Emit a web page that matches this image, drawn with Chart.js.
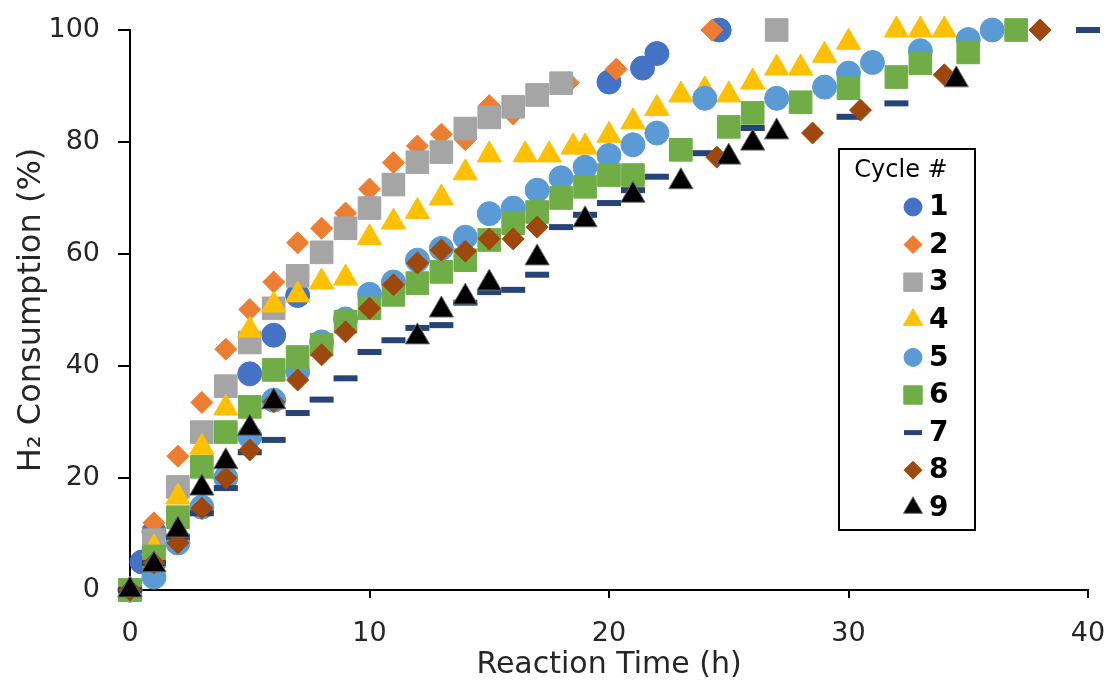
<!DOCTYPE html>
<html>
<head>
<meta charset="utf-8">
<script src="https://cdn.jsdelivr.net/npm/chart.js"></script>
<style>
    body { margin: 0; background: #fff; }
    canvas { display: block; }
</style>
</head>
<body>
<canvas id="myChart" width="1107" height="687"></canvas>
<script>
// reaction time (h) and H2 consumption (%) per cycle
const time1 = [0, 0.5, 1, 5, 6, 7, 20, 21.4, 22, 24.6];
const cons1 = [0, 5, 10.4, 38.6, 45.5, 52.6, 90.7, 93.2, 95.8, 100];

const time2 = [0, 1, 2, 3, 4, 5, 6, 7, 8, 9, 10, 11, 12, 13, 14, 15, 16, 18.3, 20.3, 24.3];
const cons2 = [0, 12, 23.9, 33.5, 43, 50.1, 55, 62, 64.6, 67.3, 71.6, 76.3, 79.3, 81.4, 80.4, 86.5, 85, 90.6, 93, 100];

const time3 = [0, 1, 2, 3, 4, 5, 6, 7, 8, 9, 10, 11, 12, 13, 14, 15, 16, 17, 18, 27];
const cons3 = [0, 8.9, 18.4, 28.2, 36.4, 44.2, 50.3, 56.1, 60.3, 64.6, 68.2, 72.4, 76.4, 78.2, 82.4, 84.4, 86.3, 88.4, 90.5, 100];

const time4 = [0, 1, 2, 3, 4, 5, 6, 7, 8, 9, 10, 11, 12, 13, 14, 15, 16.5, 17.5, 18.5, 19, 20, 21, 22, 23, 24, 25, 26, 27, 28, 29, 30, 32, 33, 34];
const cons4 = [0, 7.5, 16.6, 25.5, 32.5, 46.4, 50.9, 52.7, 55, 55.7, 62.9, 65.7, 67.6, 70, 74.5, 77.7, 77.7, 77.7, 79.1, 79.1, 81.2, 83.6, 86, 88.4, 89.3, 88.4, 90.7, 93.2, 93.2, 95.5, 97.8, 100, 100, 100];

const time5 = [0, 1, 2, 3, 4, 5, 6, 7, 8, 9, 10, 11, 12, 13, 14, 15, 16, 17, 18, 19, 20, 21, 22, 24, 27, 29, 30, 31, 33, 35, 36];
const cons5 = [0, 2.3, 8.4, 14.8, 20, 27.4, 33.9, 39, 44.3, 48.4, 52.8, 55, 58.9, 61, 63, 67.2, 68.2, 71.4, 73.6, 75.5, 77.6, 79.5, 81.6, 87.8, 87.8, 89.8, 92.3, 94.2, 96.3, 98.3, 100];

const time6 = [0, 1, 2, 3, 4, 5, 6, 7, 8, 9, 10, 11, 12, 13, 14, 15, 16, 17, 18, 19, 20, 21, 23, 25, 26, 28, 30, 32, 33, 35, 37];
const cons6 = [0, 6, 13, 22, 28.2, 32.7, 39.3, 41.6, 43.8, 47.9, 50.3, 52.7, 54.8, 56.8, 58.9, 62.5, 65.5, 67.5, 70, 72, 74.1, 74.1, 78.6, 82.7, 85.2, 87.1, 89.6, 91.6, 94.1, 96, 100];

const time7 = [0, 1, 2, 3, 4, 5, 6, 7, 8, 9, 10, 11, 12, 13, 14, 15, 16, 17, 18, 19, 20, 21, 22, 24, 26, 30, 32, 40];
const cons7 = [0, 4.8, 9.5, 13.7, 18.2, 24.6, 26.8, 31.6, 34, 37.8, 42.5, 44.6, 46.8, 47.3, 51.3, 53.2, 53.6, 56.3, 64.8, 67, 69.1, 71.4, 73.8, 78, 82.5, 84.5, 86.9, 100];

const time8 = [0, 1, 2, 3, 4, 5, 6, 7, 8, 9, 10, 11, 12, 13, 14, 15, 16, 17, 24.5, 28.5, 30.5, 34, 38];
const cons8 = [0, 4.8, 8.4, 14.6, 20, 25, 33.6, 37.5, 42, 46.1, 50.3, 54.5, 58.4, 60.7, 60.5, 62.7, 62.7, 64.8, 77.3, 81.6, 85.7, 92, 100];

const time9 = [0, 1, 2, 3, 4, 5, 6, 12, 13, 14, 15, 17, 19, 21, 23, 25, 26, 27, 34.5];
const cons9 = [0, 4.5, 10.7, 18.2, 22.9, 28.9, 33.6, 45.2, 50, 52.3, 54.8, 59.3, 66.1, 70.5, 72.9, 77.3, 79.8, 81.8, 91.1];

const cycleNames = ['1', '2', '3', '4', '5', '6', '7', '8', '9'];
const xTicks = [0, 10, 20, 30, 40];
const yTicks = [0, 20, 40, 60, 80, 100];

const allTimes = [time1, time2, time3, time4, time5, time6, time7, time8, time9];
const allCons = [cons1, cons2, cons3, cons4, cons5, cons6, cons7, cons8, cons9];

// marker look per cycle (excel style)
const markers = [
    { style: 'circle',   color: '#4472C4', border: '#4472C4', r: 12, bw: 1, lr: 9,  lbw: 1 },
    { style: 'rectRot',  color: '#ED7D31', border: '#ED7D31', r: 11, bw: 1, lr: 9,  lbw: 1 },
    { style: 'rect',     color: '#A5A5A5', border: '#A5A5A5', r: 16, bw: 1, lr: 13, lbw: 1 },
    { style: 'triangle', color: '#FFC000', border: '#FFC000', r: 14, bw: 1, lr: 11, lbw: 1 },
    { style: 'circle',   color: '#5B9BD5', border: '#5B9BD5', r: 12, bw: 1, lr: 9,  lbw: 1 },
    { style: 'rect',     color: '#70AD47', border: '#70AD47', r: 16, bw: 1, lr: 13, lbw: 1 },
    { style: 'line',     color: '#264478', border: '#264478', r: 12, bw: 6, lr: 9,  lbw: 5 },
    { style: 'rectRot',  color: '#9E480E', border: '#9E480E', r: 11, bw: 1, lr: 9,  lbw: 1 },
    { style: 'triangle', color: '#000000', border: '#6b6b6b', r: 14, bw: 1, lr: 11, lbw: 1 }
];

const FONT = "'DejaVu Sans', sans-serif";
const TEXT = '#262626';


function buildDatasets() {
    return cycleNames.map((name, i) => ({
        label: name,
        data: allTimes[i].map((t, j) => ({ x: t, y: allCons[i][j] })),
        showLine: false,
        clip: false,
        order: 8 - i,
        pointStyle: markers[i].style,
        pointRadius: markers[i].r,
        pointBackgroundColor: markers[i].color,
        pointBorderColor: markers[i].border,
        pointBorderWidth: markers[i].bw
    }));
}


function drawMarker(ctx, m, x, y) {
    ctx.fillStyle = m.color;
    ctx.strokeStyle = m.border;
    ctx.lineWidth = m.lbw;
    Chart.helpers.drawPoint(ctx, {
        pointStyle: m.style,
        radius: m.lr,
        rotation: 0,
        borderWidth: m.lbw
    }, x, y);
}


const cycleLegend = {
    id: 'cycleLegend',
    afterDraw(chart) {
        const ctx = chart.ctx;
        ctx.save();
        ctx.strokeStyle = '#000';
        ctx.lineWidth = 2;
        ctx.strokeRect(839, 149, 136, 381);

        ctx.fillStyle = '#000';
        ctx.font = '24px ' + FONT;
        ctx.textAlign = 'center';
        ctx.textBaseline = 'middle';
        ctx.fillText('Cycle #', 901, 171);

        cycleNames.forEach((name, i) => {
            const y = 207 + i * 37.6;
            drawMarker(ctx, markers[i], 913, y);
            ctx.fillStyle = '#000';
            ctx.font = 'bold 28px ' + FONT;
            ctx.textAlign = 'left';
            ctx.fillText(name, 929, y + 1);
        });
        ctx.restore();
    }
};


function seeChart() {
    const ctx = document.getElementById('myChart');

    new Chart(ctx, {
        type: 'scatter',
        data: { datasets: buildDatasets() },
        options: {
            responsive: false,
            animation: false,
            events: [],
            layout: { padding: { left: 0, right: 19, top: 30, bottom: 0 } },
            plugins: {
                legend: { display: false },
                tooltip: { enabled: false }
            },
            scales: {
                x: {
                    type: 'linear',
                    min: 0,
                    max: 40,
                    afterFit: (scale) => {
                        scale.height = 97;
                        scale.paddingLeft = 0;
                        scale.paddingRight = 0;
                    },
                    afterBuildTicks: (scale) => { scale.ticks = xTicks.map(v => ({ value: v })); },
                    border: { display: true, color: '#000', width: 2 },
                    grid: { display: true, drawOnChartArea: false, drawTicks: true, tickLength: 8, color: '#000', lineWidth: 2 },
                    ticks: { padding: 20, color: TEXT, font: { family: FONT, size: 27 } },
                    title: {
                        display: true,
                        text: 'Reaction Time (h)',
                        color: TEXT,
                        font: { family: FONT, size: 30 },
                        padding: { top: 0, bottom: 4 }
                    }
                },
                y: {
                    type: 'linear',
                    min: 0,
                    max: 100,
                    afterFit: (scale) => {
                        scale.width = 130;
                        scale.paddingTop = 0;
                        scale.paddingBottom = 0;
                    },
                    afterBuildTicks: (scale) => { scale.ticks = yTicks.map(v => ({ value: v })); },
                    border: { display: true, color: '#000', width: 2 },
                    grid: { display: true, drawOnChartArea: false, drawTicks: true, tickLength: 12, color: '#000', lineWidth: 2 },
                    ticks: { padding: 18, color: TEXT, font: { family: FONT, size: 27 } },
                    title: {
                        display: true,
                        text: 'H\u2082 Consumption (%)',
                        color: TEXT,
                        font: { family: FONT, size: 32 },
                        padding: { top: 12, bottom: 0 }
                    }
                }
            }
        },
        plugins: [cycleLegend]
    });
}

seeChart();
</script>
</body>
</html>
